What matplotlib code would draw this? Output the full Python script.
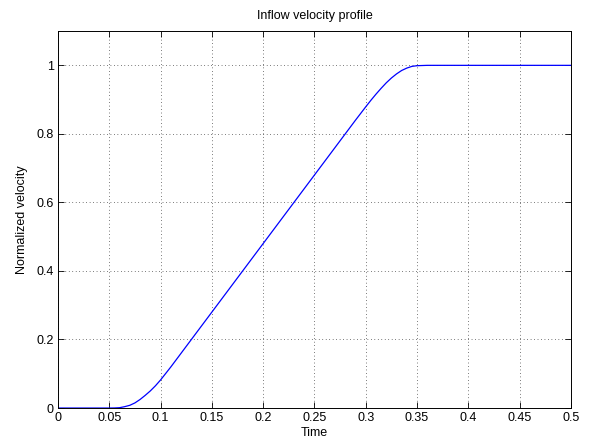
import matplotlib
matplotlib.use('Agg')
import matplotlib.pyplot as plt

# values
time = [0.0, 0.05, 0.055, 0.06, 0.065, 0.07, 0.075, 0.08, 0.085, 0.09, 0.095, 0.1,
        0.11, 0.12, 0.13, 0.14, 0.15, 0.16, 0.17, 0.18, 0.19, 0.2,
        0.21, 0.22, 0.23, 0.24, 0.25, 0.26, 0.27, 0.28, 0.29, 0.3,
        0.305, 0.31, 0.315, 0.32, 0.325, 0.33, 0.335, 0.34, 0.345, 0.35, 0.36, 0.5]
velocity = [0.0, 0.0, 0.0002, 0.001, 0.004, 0.008, 0.015, 0.025, 0.037, 0.05, 0.065, 0.082,
            0.12, 0.16, 0.20, 0.24, 0.28, 0.32, 0.36, 0.40, 0.44, 0.48,
            0.52, 0.56, 0.60, 0.64, 0.68, 0.72, 0.76, 0.80, 0.84, 0.879,
            0.898, 0.916, 0.933, 0.949, 0.963, 0.975, 0.985, 0.992, 0.997, 0.999, 1.0, 1.0]

xticks = [0, 0.05, 0.1, 0.15, 0.2, 0.25, 0.3, 0.35, 0.4, 0.45, 0.5]
xlabels = ['0', '0.05', '0.1', '0.15', '0.2', '0.25', '0.3', '0.35', '0.4', '0.45', '0.5']
yticks = [0, 0.2, 0.4, 0.6, 0.8, 1]
ylabels = ['0', '0.2', '0.4', '0.6', '0.8', '1']

plt.rcParams['font.family'] = ['Liberation Sans', 'DejaVu Sans']
plt.rcParams['font.size'] = 9

fig = plt.figure(figsize=(5.95, 4.44), dpi=100)
ax = fig.add_axes([0.0975, 0.081, 0.862, 0.849])

ax.plot(time, velocity, color='blue', linewidth=0.9)

ax.set_xlim(0, 0.5)
ax.set_ylim(0, 1.1)
ax.set_xticks(xticks)
ax.set_xticklabels(xlabels)
ax.set_yticks(yticks)
ax.set_yticklabels(ylabels)
ax.grid(True, color='black', linestyle=(0, (1, 4)), linewidth=0.5)
ax.tick_params(direction='in', top=True, right=True, length=4, width=0.6, pad=3)
for s in ax.spines.values():
	s.set_linewidth(0.7)

ax.set_title('Inflow velocity profile', fontsize=9, pad=9)
ax.set_xlabel('Time', labelpad=2)
ax.set_ylabel('Normalized velocity', labelpad=6)

fig.savefig('out.png', dpi=100)
